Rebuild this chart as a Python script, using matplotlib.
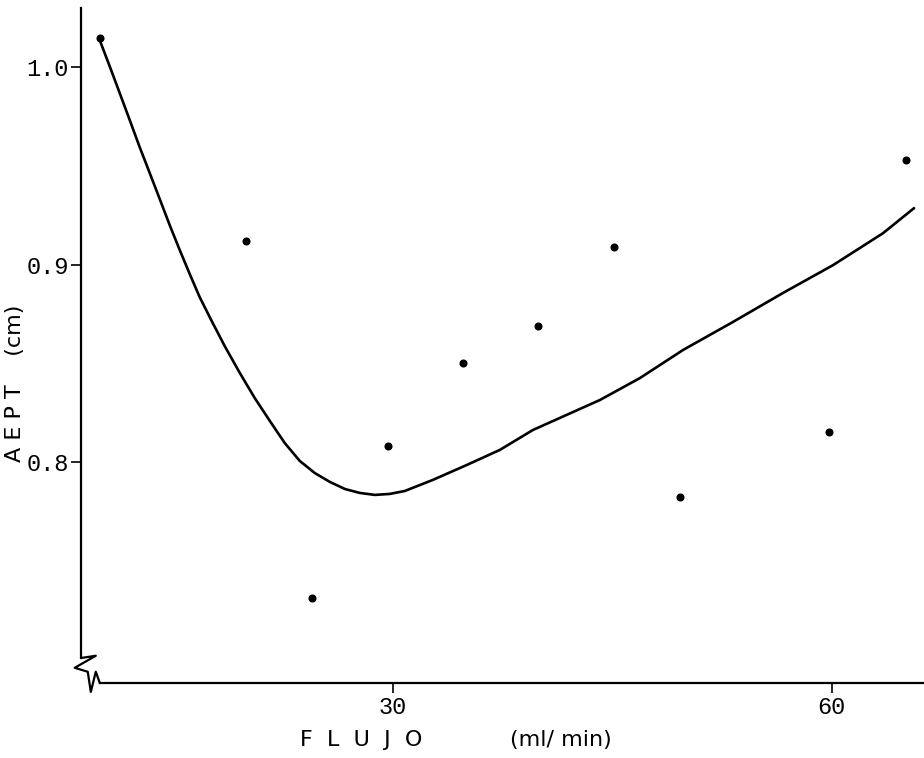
import matplotlib.pyplot as plt

# valores medidos: flujo (ml/min) y AEPT (cm)
flujo = [10.0, 20.0, 24.5, 29.7, 34.8, 39.9, 45.1, 49.6, 59.8, 65.1]
aept = [1.015, 0.912, 0.731, 0.808, 0.850, 0.869, 0.909, 0.782, 0.815, 0.953]

# curva de ajuste trazada a mano
curva_x = [9.98, 10.66, 11.35, 12.03, 12.71, 13.40, 14.08, 14.76, 15.45, 16.13,
           16.81, 17.63, 18.52, 19.55, 20.57, 21.60, 22.62, 23.65, 24.67, 25.70,
           26.73, 27.75, 28.78, 29.80, 30.83, 32.74, 35.07, 37.32, 39.58, 44.16,
           46.89, 49.83, 53.24, 56.66, 60.08, 63.50, 65.62]
curva_y = [1.0137, 1.0005, 0.9868, 0.9732, 0.9595, 0.9463, 0.9332, 0.9200, 0.9073, 0.8952,
           0.8835, 0.8714, 0.8587, 0.8451, 0.8324, 0.8208, 0.8096, 0.8005, 0.7944, 0.7899,
           0.7863, 0.7843, 0.7833, 0.7838, 0.7853, 0.7909, 0.7985, 0.8061, 0.8162, 0.8314,
           0.8425, 0.8567, 0.8709, 0.8856, 0.8997, 0.9159, 0.9286]

xticks = [30, 60]
yticks = [0.8, 0.9, 1.0]
ytick_labels = ['0.8', '0.9', '1.0']

fig = plt.figure(figsize=(9.24, 7.58), dpi=100)
ax = fig.add_axes([81 / 924, 75 / 758, 843 / 924, 675 / 758])

ax.plot(curva_x, curva_y, color='black', lw=1.9, solid_capstyle='round', solid_joinstyle='round')
ax.plot(flujo, aept, 'o', color='black', ms=4.8)

ax.set_xlim(8.7, 66.3)
ax.set_ylim(0.688, 1.030)

for s in ['top', 'right']:
    ax.spines[s].set_visible(False)
ax.spines['left'].set_linewidth(1.6)
ax.spines['bottom'].set_linewidth(1.6)
ax.spines['left'].set_bounds(0.7008, 1.030)
ax.spines['bottom'].set_bounds(9.98, 66.3)

# corte del eje en el origen
corte_x = [8.82, 9.71, 8.27, 9.16, 9.37, 9.71, 9.98]
corte_y = [0.7008, 0.7018, 0.6957, 0.6937, 0.6835, 0.6937, 0.6881]
ax.plot(corte_x, corte_y, color='black', lw=1.6, clip_on=False)

ax.set_xticks(xticks)
ax.set_xticklabels([str(t) for t in xticks])
ax.set_yticks(yticks)
ax.set_yticklabels(ytick_labels)
ax.tick_params(direction='out', length=7, width=1.2, pad=2, labelsize=17)
for lab in ax.get_xticklabels() + ax.get_yticklabels():
    lab.set_family('Liberation Mono')

fig.text(15 / 924, 1 - 383 / 758, 'A E P T    (cm)', rotation=90, ha='center', va='center',
         fontsize=16, family='DejaVu Sans')
fig.text(300 / 924, 1 - 740 / 758, 'F  L  U  J  O', ha='left', va='center',
         fontsize=16, family='DejaVu Sans')
fig.text(612 / 924, 1 - 740 / 758, '(ml/ min)', ha='right', va='center',
         fontsize=16, family='DejaVu Sans')

fig.savefig('out.png', dpi=100)
